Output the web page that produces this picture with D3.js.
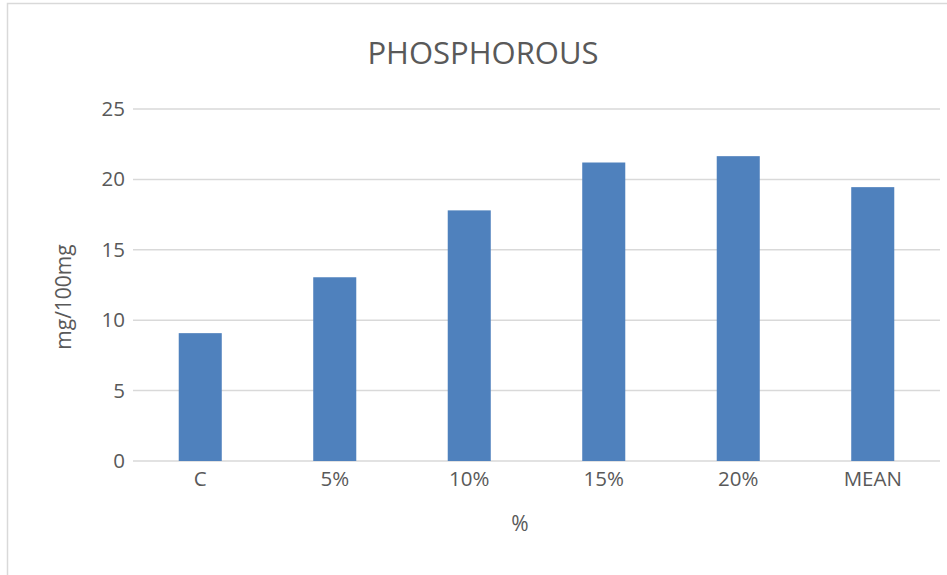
<!DOCTYPE html>
<html>
<head>
<meta charset="utf-8">
<script src="https://cdn.jsdelivr.net/npm/d3@7"></script>
<style>
  body { margin: 0; background: #fff; }
  text { font-family: 'Open Sans', sans-serif; fill: #595959; }
</style>
</head>
<body>
<div id="chart"></div>
<script>
// chart data
var categories = ['C', '5%', '10%', '15%', '20%', 'MEAN'];
var values = [9.08, 13.05, 17.8, 21.2, 21.65, 19.45];
var yTicks = [0, 5, 10, 15, 20, 25];

var svgWidth = 947;
var svgHeight = 575;

var margin = {
  top: 109,
  right: 7,
  bottom: 114,
  left: 133
};

var width = svgWidth - margin.left - margin.right;
var height = svgHeight - margin.top - margin.bottom;

var svg = d3.select('#chart')
  .append('svg')
  .attr('width', svgWidth)
  .attr('height', svgHeight);

// outer chart border (only top and left visible)
svg.append('rect')
  .attr('x', 7.5)
  .attr('y', 3.5)
  .attr('width', svgWidth + 20)
  .attr('height', svgHeight + 20)
  .attr('fill', 'none')
  .attr('stroke', '#d9d9d9')
  .attr('stroke-width', 1.5);

var chartGroup = svg.append('g')
  .attr('transform', `translate(${margin.left}, ${margin.top})`);

var xBandScale = d3.scaleBand()
  .domain(categories)
  .range([0, width])
  .paddingInner(0.68)
  .paddingOuter(0.34);

var yLinearScale = d3.scaleLinear()
  .domain([0, 25])
  .range([height, 0]);

// gridlines
chartGroup.selectAll('.grid')
  .data(yTicks)
  .enter()
  .append('line')
  .attr('class', 'grid')
  .attr('x1', 0)
  .attr('x2', width)
  .attr('y1', d => yLinearScale(d))
  .attr('y2', d => yLinearScale(d))
  .attr('stroke', '#d9d9d9')
  .attr('stroke-width', 1.5);

// y axis labels
var leftAxis = d3.axisLeft(yLinearScale)
  .tickValues(yTicks)
  .tickSize(0)
  .tickPadding(8);

chartGroup.append('g')
  .call(leftAxis)
  .call(g => g.select('.domain').remove())
  .selectAll('text')
  .style('font-size', '20.5px')
  .attr('fill', '#595959');

// bars
chartGroup.selectAll('.bar')
  .data(values)
  .enter()
  .append('rect')
  .attr('class', 'bar')
  .attr('x', (d, i) => xBandScale(categories[i]))
  .attr('y', d => yLinearScale(d))
  .attr('width', xBandScale.bandwidth())
  .attr('height', d => height - yLinearScale(d))
  .attr('fill', '#4f81bd');

// x axis labels
var bottomAxis = d3.axisBottom(xBandScale)
  .tickSize(0)
  .tickPadding(10);

chartGroup.append('g')
  .attr('transform', `translate(0, ${height})`)
  .call(bottomAxis)
  .call(g => g.select('.domain').remove())
  .selectAll('text')
  .style('font-size', '20.5px')
  .attr('fill', '#595959');

// title
svg.append('text')
  .attr('x', 483)
  .attr('y', 64)
  .style('text-anchor', 'middle')
  .style('font-size', '31px')
  .text('PHOSPHOROUS');

// axis titles
svg.append('text')
  .attr('transform', 'rotate(-90)')
  .attr('x', -297)
  .attr('y', 71)
  .style('text-anchor', 'middle')
  .style('font-size', '21px')
  .text('mg/100mg');

svg.append('text')
  .attr('x', 520)
  .attr('y', 531)
  .style('text-anchor', 'middle')
  .style('font-size', '21px')
  .text('%');
</script>
</body>
</html>
